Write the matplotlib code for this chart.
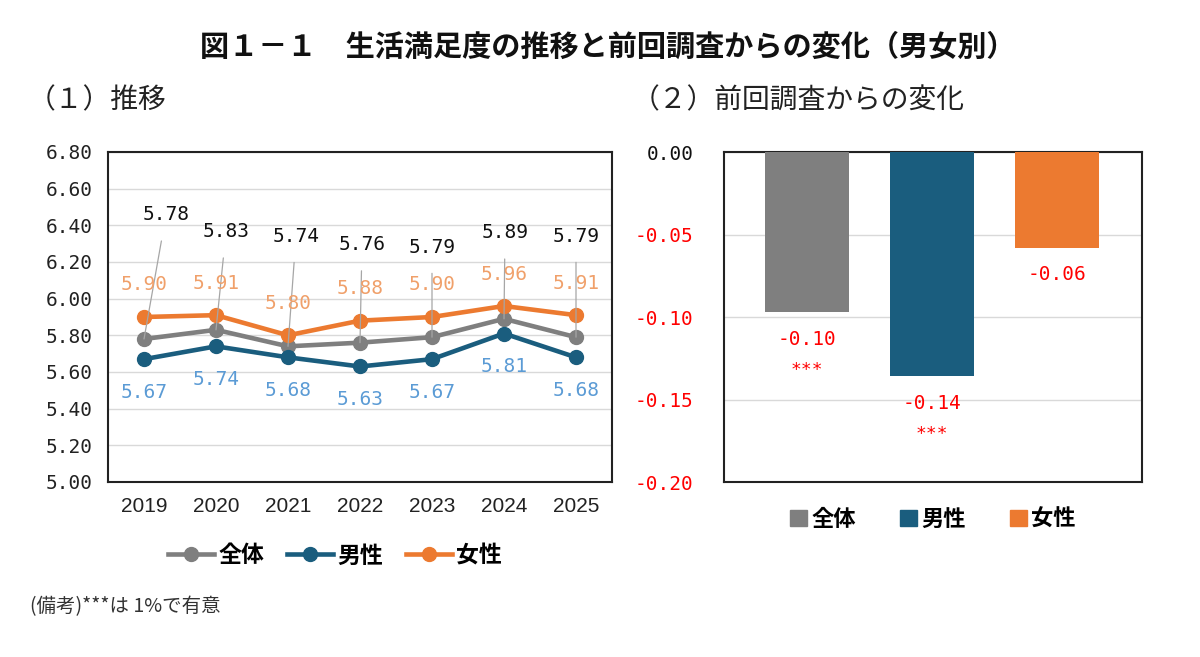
import matplotlib
matplotlib.use("Agg")
import matplotlib.pyplot as plt
import numpy as np

plt.rcParams['font.family'] = ['Noto Sans CJK JP', 'DejaVu Sans']

years = ['2019', '2020', '2021', '2022', '2023', '2024', '2025']
total = [5.78, 5.83, 5.74, 5.76, 5.79, 5.89, 5.79]
male = [5.67, 5.74, 5.68, 5.63, 5.67, 5.81, 5.68]
female = [5.90, 5.91, 5.80, 5.88, 5.90, 5.96, 5.91]

groups = ['全体', '男性', '女性']
change = [-0.097, -0.136, -0.058]
signif = ['***', '***', '']

c_gray = '#7F7F7F'
c_blue = '#1A5D7E'
c_orange = '#EC7A30'

MONO = ['DejaVu Sans Mono', 'DejaVu Sans']
NUMF = ['Liberation Sans Narrow', 'Liberation Sans', 'DejaVu Sans']

fig = plt.figure(figsize=(12, 6.57), dpi=100)
fig.patch.set_facecolor('white')

fig.text(608/1200, 1 - 47/657, '図１－１　生活満足度の推移と前回調査からの変化（男女別）',
         ha='center', va='center', fontsize=21, fontweight='bold', color='#111111')
fig.text(28/1200, 1 - 100/657, '（１）推移', ha='left', va='center', fontsize=20,
         color='#222222')
fig.text(632/1200, 1 - 100/657, '（２）前回調査からの変化', ha='left', va='center',
         fontsize=20, color='#222222')
fig.text(30/1200, 1 - 607/657, '(備考)***は 1%で有意', ha='left', va='center',
         fontsize=14, color='#333333')

# ---------- left: line chart ----------
ax1 = fig.add_axes([108/1200, 1 - 482/657, 504/1200, 330/657])
x = np.arange(len(years))
ax1.plot(x, total, color=c_gray, lw=3.3, marker='o', ms=10, label='全体', zorder=3)
ax1.plot(x, male, color=c_blue, lw=3.3, marker='o', ms=10, label='男性', zorder=3)
ax1.plot(x, female, color=c_orange, lw=3.3, marker='o', ms=10, label='女性', zorder=3)
ax1.set_xlim(-0.5, len(years) - 0.5)
ax1.set_ylim(5.0, 6.8)
yt1 = np.arange(5.0, 6.81, 0.2)
ax1.set_yticks(yt1)
ax1.set_yticklabels([f'{v:.2f}' for v in yt1], fontsize=14, family=MONO, color='#222222')
ax1.set_xticks(x)
ax1.set_xticklabels(years, fontsize=15, family=NUMF, color='#222222')
ax1.tick_params(axis='both', length=0)
ax1.tick_params(axis='y', pad=11)
ax1.tick_params(axis='x', pad=11)
ax1.grid(axis='y', color='#D9D9D9', lw=1)
ax1.set_axisbelow(True)
for s in ax1.spines.values():
    s.set_color('#222222')
    s.set_linewidth(1.5)

# label offsets in pixels (dx, dy)
black_off = [(22, 124), (10, 98), (8, 110), (2, 98), (0, 90), (1, 86), (0, 101)]
for i, v in enumerate(total):
    dx, dy = black_off[i]
    ax1.annotate(f'{v:.2f}', xy=(x[i], v), xytext=(dx, dy), textcoords='offset pixels',
                 ha='center', va='center', fontsize=14, family=MONO, color='#111111',
                 arrowprops=dict(arrowstyle='-', color='#A6A6A6', lw=0.9,
                                 shrinkA=10, shrinkB=0), zorder=4)
for i, v in enumerate(female):
    ax1.annotate(f'{v:.2f}', xy=(x[i], v), xytext=(0, 32), textcoords='offset pixels',
                 ha='center', va='center', fontsize=14, family=MONO, color='#F0A06A',
                 zorder=5)
for i, v in enumerate(male):
    ax1.annotate(f'{v:.2f}', xy=(x[i], v), xytext=(0, -33), textcoords='offset pixels',
                 ha='center', va='center', fontsize=14, family=MONO, color='#5B9BD5',
                 zorder=5)

ax1.legend(loc='center', bbox_to_anchor=((335 - 108) / 504, (482 - 556) / 330), ncol=3,
           frameon=False, handlelength=2.0, columnspacing=1.0, handletextpad=0.2,
           prop={'weight': 'bold', 'size': 16.5})

# ---------- right: bar chart ----------
ax2 = fig.add_axes([724/1200, 1 - 482/657, 418/1200, 330/657])
xb = np.arange(len(groups))
colors = [c_gray, c_blue, c_orange]
ax2.bar(xb, change, width=0.67, color=colors, zorder=3)
ax2.set_xlim(-0.66, 2.68)
ax2.set_ylim(-0.20, 0.0)
yt = np.arange(-0.20, 0.001, 0.05)
ax2.set_yticks(yt)
ax2.set_yticklabels([f'{v:.2f}' if abs(v) > 1e-9 else '0.00' for v in yt],
                    fontsize=14, family=MONO)
for lab, v in zip(ax2.get_yticklabels(), yt):
    lab.set_color('#111111' if abs(v) < 1e-9 else '#FF0000')
ax2.set_xticks([])
ax2.tick_params(axis='y', length=0, pad=22)
ax2.grid(axis='y', color='#D9D9D9', lw=1)
ax2.set_axisbelow(True)
for s in ax2.spines.values():
    s.set_color('#222222')
    s.set_linewidth(1.5)

for i, v in enumerate(change):
    ax2.annotate(f'{v:.2f}', xy=(xb[i], v), xytext=(0, -27), textcoords='offset pixels',
                 ha='center', va='center', fontsize=14, family=MONO, color='#FF0000')
    if signif[i]:
        ax2.annotate(signif[i], xy=(xb[i], v), xytext=(0, -58), textcoords='offset pixels',
                     ha='center', va='center', fontsize=13, family=MONO, color='#FF0000')

handles = [plt.Rectangle((0, 0), 1, 1, color=c) for c in colors]
ax2.legend(handles, groups, loc='center', bbox_to_anchor=(0.5, (482 - 519) / 330), ncol=3,
           frameon=False, handlelength=0.75, handleheight=0.75, handletextpad=0.2,
           columnspacing=2.0, prop={'weight': 'bold', 'size': 16})

fig.savefig('out.png', dpi=100, facecolor='white')
